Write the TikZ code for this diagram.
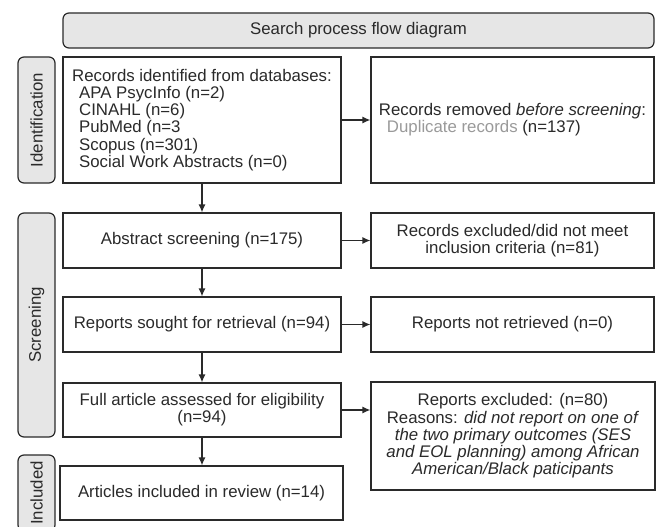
\documentclass[tikz,border=0pt]{standalone}
\usepackage{fontspec}
\setmainfont{Liberation Sans}
\usetikzlibrary{arrows.meta}
\definecolor{linegray}{HTML}{2A2A2A}
\definecolor{fillgray}{HTML}{E6E6E6}
\definecolor{dupgray}{HTML}{9A9A9A}
\tikzset{
  box/.style={draw=linegray, line width=1.2pt, fill=white, inner sep=0pt, align=center, text=linegray},
  phase/.style={draw=linegray, line width=1.2pt, fill=fillgray, rounded corners=6pt, inner sep=0pt, text=linegray},
  flow/.style={draw=linegray, line width=1.2pt, -{Latex[length=8pt,width=7pt]}}
}
\begin{document}
\begin{tikzpicture}[x=1pt, y=-1pt, font=\fontsize{16.8}{17.2}\selectfont]  %Diagrama em pixels
  \useasboundingbox (0,0) rectangle (656,527);
          %Titulo
  \node[phase, minimum width=591pt, minimum height=35pt] (title) at (358.5,30.5) {Search process flow diagram};
          %Fases
  \node[phase, rotate=90, minimum width=126pt, minimum height=37pt] (idphase) at (36.5,120) {Identification};
  \node[phase, rotate=90, minimum width=224pt, minimum height=37pt] (scrphase) at (36.5,325) {Screening};
  \node[phase, rotate=90, minimum width=76pt, minimum height=37pt] (incphase) at (36.5,493) {Included};
          %Caixas da esquerda
  \node[box, align=left, minimum width=278pt, minimum height=126pt] (found) at (202,120)
    {Records identified from databases:\\
     \hspace{7pt}APA PsycInfo (n=2)\\
     \hspace{7pt}CINAHL (n=6)\\
     \hspace{7pt}PubMed (n=3\\
     \hspace{7pt}Scopus (n=301)\\
     \hspace{7pt}Social Work Abstracts (n=0)};
  \node[box, minimum width=278pt, minimum height=55pt] (abstract) at (202,240.5) {Abstract screening (n=175)};
  \node[box, minimum width=278pt, minimum height=55pt] (sought) at (202,324.5) {Reports sought for retrieval (n=94)};
  \node[box, minimum width=278pt, minimum height=54pt] (fulltext) at (202,410) {Full article assessed for eligibility\\(n=94)};
  \node[box, minimum width=283pt, minimum height=54pt] (included) at (201.5,493) {Articles included in review (n=14)};
          %Caixas da direita
  \node[box, align=left, minimum width=283pt, minimum height=126pt] (removed) at (512.5,120)
    {Records removed \textit{before screening}:\\
     \hspace{8pt}\textcolor{dupgray}{Duplicate records} (n=137)};
  \node[box, minimum width=283pt, minimum height=55pt] (excluded) at (512.5,240.5) {Records excluded/did not meet\\inclusion criteria (n=81)};
  \node[box, minimum width=283pt, minimum height=55pt] (notretr) at (512.5,324.5) {Reports not retrieved (n=0)};
  \node[box, minimum width=284pt, minimum height=108pt] (repexcl) at (513,436)
    {Reports excluded: (n=80)\\
     Reasons: \textit{did not report on one of}\\
     \textit{the two primary outcomes (SES}\\
     \textit{and EOL planning) among African}\\
     \textit{American/Black paticipants}};
          %Setas verticais
  \draw[flow] (found.south) -- (abstract.north);
  \draw[flow] (abstract.south) -- (sought.north);
  \draw[flow] (sought.south) -- (fulltext.north);
  \draw[flow] (fulltext.south) -- (fulltext.south |- included.north);
          %Setas horizontais
  \draw[flow] (found.east) -- (removed.west);
  \draw[flow] (abstract.east) -- (excluded.west);
  \draw[flow] (sought.east) -- (notretr.west);
  \draw[flow] (fulltext.east) -- (fulltext.east -| repexcl.west);
\end{tikzpicture}
\end{document}
